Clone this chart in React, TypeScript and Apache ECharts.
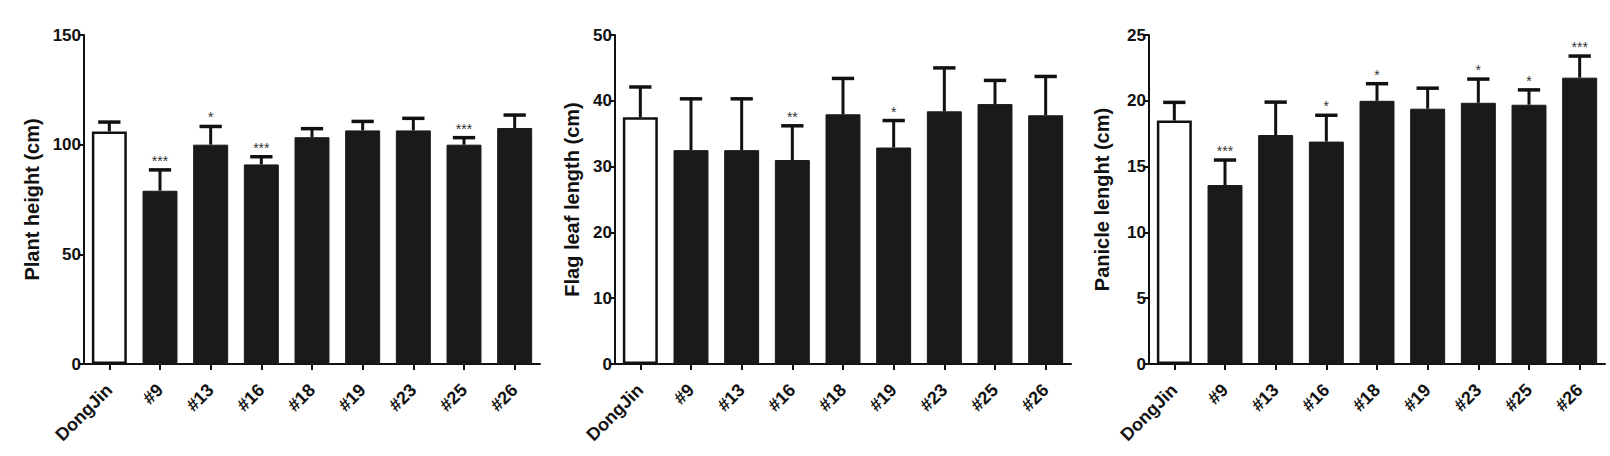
import React, { useEffect, useRef } from "react";
import * as echarts from "echarts";

const categories = ["DongJin", "#9", "#13", "#16", "#18", "#19", "#23", "#25", "#26"];

const plantHeightMean = [106, 79, 100, 91, 103.4, 106.5, 106.5, 100, 107.6];
const plantHeightSD = [4.3, 9.5, 8.3, 3.5, 3.9, 4.1, 5.5, 3.2, 5.9];
const plantHeightSig = ["", "***", "*", "***", "", "", "", "***", ""];

const flagLeafMean = [37.5, 32.5, 32.5, 31.0, 37.95, 32.9, 38.4, 39.5, 37.8];
const flagLeafSD = [4.6, 7.8, 7.8, 5.2, 5.45, 4.1, 6.6, 3.6, 5.9];
const flagLeafSig = ["", "", "", "**", "", "*", "", "", ""];

const panicleMean = [18.5, 13.6, 17.4, 16.9, 20.0, 19.4, 19.85, 19.7, 21.76];
const panicleSD = [1.38, 1.9, 2.5, 2.0, 1.3, 1.56, 1.8, 1.13, 1.64];
const panicleSig = ["", "***", "", "*", "*", "", "*", "*", "***"];

const yTitles = ["Plant height (cm)", "Flag leaf length (cm)", "Panicle lenght (cm)"];
const yMax = [150, 50, 25];
const yInterval = [50, 10, 5];

const panels = [
  { mean: plantHeightMean, sd: plantHeightSD, sig: plantHeightSig },
  { mean: flagLeafMean, sd: flagLeafSD, sig: flagLeafSig },
  { mean: panicleMean, sd: panicleSD, sig: panicleSig },
];

const FONT = "'Liberation Sans', Arial, sans-serif";
const INK = "#111";
const gridLefts = [84, 615, 1149];
const nameGaps = [42, 33, 37];

export default function App() {
  const ref = useRef<HTMLDivElement>(null);

  useEffect(() => {
    if (!ref.current) return;
    const chart = echarts.init(ref.current, null, { renderer: "svg" });

    const grid = gridLefts.map((l) => ({ left: l, top: 35, width: 456, height: 329 }));

    const xAxis = panels.map((_, k) => ({
      type: "category",
      gridIndex: k,
      data: categories,
      axisLine: { show: true, lineStyle: { color: INK, width: 2 } },
      axisTick: { show: true, alignWithLabel: true, length: 6, lineStyle: { color: INK, width: 2 } },
      axisLabel: {
        interval: 0,
        rotate: 45,
        margin: 23,
        fontSize: 18,
        fontWeight: "bold",
        fontFamily: FONT,
        color: INK,
      },
    }));

    const yAxis = panels.map((_, k) => ({
      type: "value",
      gridIndex: k,
      min: 0,
      max: yMax[k],
      interval: yInterval[k],
      name: yTitles[k],
      nameLocation: "middle",
      nameGap: nameGaps[k],
      nameTextStyle: { fontSize: 20, fontWeight: "bold", fontFamily: FONT, color: INK },
      axisLine: { show: true, lineStyle: { color: INK, width: 2 } },
      axisTick: { show: true, length: 5, lineStyle: { color: INK, width: 2 } },
      splitLine: { show: false },
      axisLabel: { fontSize: 17, fontWeight: "bold", fontFamily: FONT, color: INK, margin: 3 },
    }));

    const series: any[] = [];
    panels.forEach((p, k) => {
      series.push({
        type: "bar",
        xAxisIndex: k,
        yAxisIndex: k,
        barCategoryGap: "31%",
        data: p.mean.map((v, i) => ({
          value: v,
          itemStyle:
            i === 0
              ? { color: "#ffffff", borderColor: INK, borderWidth: 2.5 }
              : { color: "#1a1a1a", borderColor: "#1a1a1a", borderWidth: 1 },
        })),
        z: 2,
      });
      series.push({
        type: "custom",
        xAxisIndex: k,
        yAxisIndex: k,
        z: 3,
        data: p.mean.map((v, i) => [i, v, v + p.sd[i]]),
        renderItem: (params: any, api: any) => {
          const i = api.value(0);
          const top = api.coord([i, api.value(1)]);
          const cap = api.coord([i, api.value(2)]);
          const bw = api.size([1, 0])[0];
          const half = bw * 0.22;
          const star = p.sig[params.dataIndex];
          const children: any[] = [
            {
              type: "line",
              shape: { x1: top[0], y1: top[1], x2: cap[0], y2: cap[1] },
              style: { stroke: INK, lineWidth: 3 },
            },
            {
              type: "line",
              shape: { x1: cap[0] - half, y1: cap[1], x2: cap[0] + half, y2: cap[1] },
              style: { stroke: INK, lineWidth: 3.5 },
            },
          ];
          if (star) {
            children.push({
              type: "text",
              x: cap[0],
              y: cap[1] - 2,
              style: {
                text: star,
                fill: "#333",
                font: `14px ${FONT}`,
                textAlign: "center",
                textVerticalAlign: "bottom",
              },
            });
          }
          return { type: "group", children };
        },
      });
    });

    chart.setOption({
      animation: false,
      backgroundColor: "#ffffff",
      grid,
      xAxis,
      yAxis,
      series,
    } as any);

    return () => chart.dispose();
  }, []);

  return (
    <div
      ref={ref}
      style={{ position: "fixed", left: 0, top: 0, width: 1610, height: 456, background: "#fff" }}
    />
  );
}
